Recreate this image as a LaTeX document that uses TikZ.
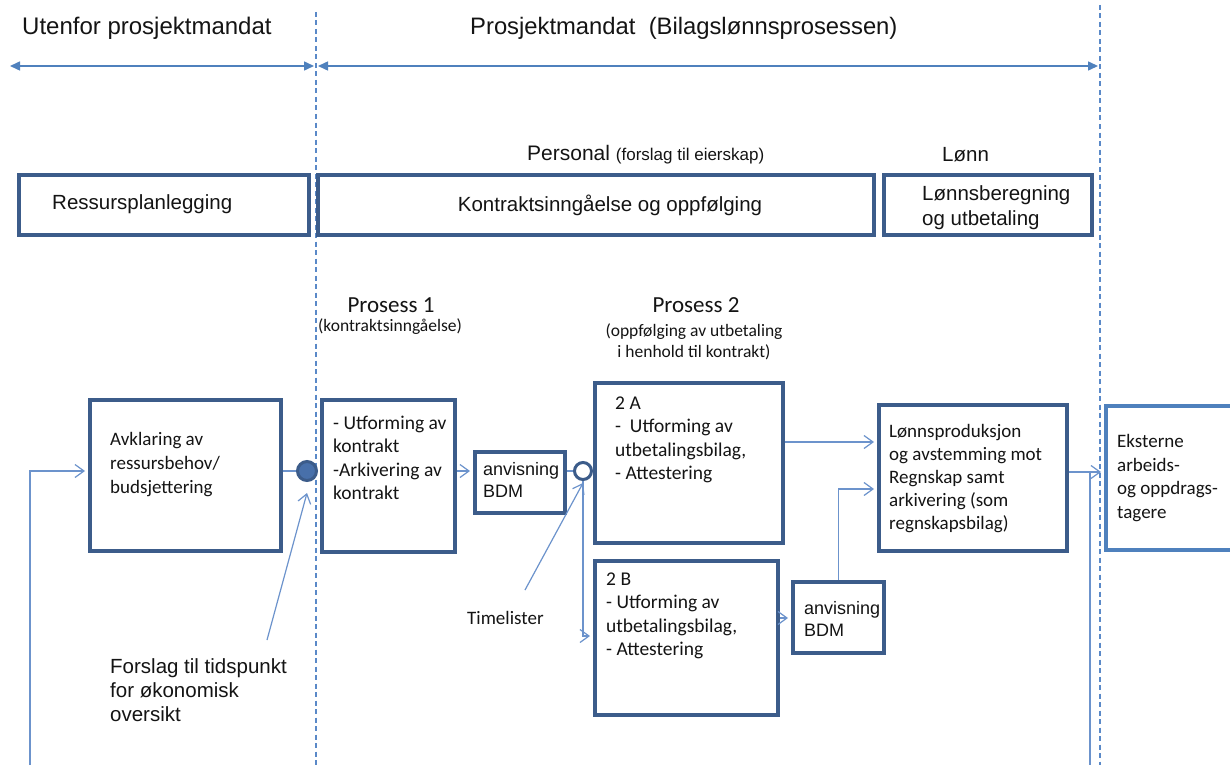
\documentclass[tikz,border=0pt]{standalone}
\usepackage{fontspec}
\setmainfont{Liberation Sans}
\newfontfamily\calfont{Carlito}
\usetikzlibrary{arrows.meta}

\definecolor{frameblue}{RGB}{60,92,138}
\definecolor{flowblue}{RGB}{108,147,204}
\definecolor{guideblue}{RGB}{90,137,200}
\definecolor{spanblue}{RGB}{79,129,189}
\definecolor{extblue}{RGB}{79,129,189}
\definecolor{dotfill}{RGB}{72,112,170}
\definecolor{ink}{RGB}{20,20,20}

\newcommand\fsz[2]{\fontsize{#1}{#2}\selectfont}

\begin{document}
\begin{tikzpicture}[x=1pt,y=-1pt,
  every node/.style={text=ink},
  frame/.style={draw=frameblue, fill=white, line width=3.8pt, inner sep=0pt, anchor=north west},
  extframe/.style={draw=extblue, fill=white, line width=4pt, inner sep=0pt, anchor=north west},
  txt/.style={inner sep=0pt, anchor=west, align=left},
  head/.style={font=\fsz{20.5}{25}},
  body/.style={font=\calfont\fsz{19.5}{23.5}},
  flow/.style={draw=flowblue, line width=1.2pt},
  flowarrow/.style={flow, shorten >=3pt, -{Straight Barb[length=9pt,width=13pt]}},
  guide/.style={draw=guideblue, line width=1.3pt, dash pattern=on 5pt off 3.5pt},
  span/.style={draw=spanblue, line width=1.5pt, {Triangle[length=10pt,width=9pt]}-{Triangle[length=10pt,width=9pt]}},
  hub/.style={circle, draw=frameblue, line width=3pt, inner sep=0pt},
]
\useasboundingbox (0,0) rectangle (1230,765);
\fill[white] (0,0) rectangle (1230,765);
\clip (0,0) rectangle (1230,765);

% scope boundaries and their span arrows
\coordinate (g1top) at (316,12);
\coordinate (g1bot) at (316,765);
\coordinate (g2top) at (1100,5);
\coordinate (g2bot) at (1100,765);
\draw[guide] (g1top) -- (g1bot);
\draw[guide] (g2top) -- (g2bot);

\coordinate (s1a) at (10,66);
\coordinate (s1b) at (314,66);
\coordinate (s2a) at (318,66);
\coordinate (s2b) at (1098,66);
\draw[span] (s1a) -- (s1b);
\draw[span] (s2a) -- (s2b);

\node[txt, font=\fsz{24}{28}] (t-out) at (22,28) {Utenfor prosjektmandat};
\node[txt, font=\fsz{23.8}{28}] (t-in) at (470,28) {Prosjektmandat\ \ (Bilagslønnsprosessen)};

% responsibility areas
\node[txt, font=\fsz{21}{25}] (l-personal) at (527,155) {Personal {\fsz{17}{20}(forslag til eierskap)}};
\node[txt, font=\fsz{20.5}{25}] (l-lonn) at (942,155) {Lønn};

\node[frame, minimum width=290pt, minimum height=60pt] (plan) at (17,173) {};
\node[frame, minimum width=556pt, minimum height=60pt] (contract) at (316,173) {};
\node[frame, minimum width=208pt, minimum height=60pt] (payroll) at (882,173) {};
\node[txt, head] (l-plan) at (52,204) {Ressursplanlegging};
\node[head, inner sep=0pt] (l-contract) at (610,205) {Kontraktsinngåelse og oppfølging};
\node[txt, head] (l-payroll) at (922,208) {Lønnsberegning\\og utbetaling};

% process headings
\node[font=\calfont\fsz{23}{27}, inner sep=0pt] (p1-title) at (391,305) {Prosess 1};
\node[font=\calfont\fsz{17.5}{21}, inner sep=0pt] (p1-sub) at (390,327) {(kontraktsinngåelse)};
\node[font=\calfont\fsz{23}{27}, inner sep=0pt] (p2-title) at (696,305) {Prosess 2};
\node[font=\calfont\fsz{17.5}{21.5}, align=center, inner sep=0pt] (p2-sub) at (694,342) {(oppfølging av utbetaling\\i henhold til kontrakt)};

% process boxes
\node[frame, minimum width=191pt, minimum height=151pt] (avk) at (88,398) {};
\node[frame, minimum width=133pt, minimum height=152pt] (p1) at (320,398) {};
\node[frame, minimum width=90pt, minimum height=61pt] (anv1) at (473,450) {};
\node[frame, minimum width=188pt, minimum height=160pt] (a2) at (593,381) {};
\node[frame, minimum width=183pt, minimum height=154pt] (b2) at (593,559) {};
\node[frame, minimum width=91pt, minimum height=71pt] (anv2) at (791,580) {};
\node[frame, minimum width=188pt, minimum height=146pt] (lp) at (877,403) {};
\node[extframe, minimum width=160pt, minimum height=144pt] (ek) at (1104,404) {};

\node[txt, font=\calfont\fsz{19}{24}] (avk-t) at (110,465) {Avklaring av\\ressursbehov/\\budsjettering};
\node[txt, body] (p1-t) at (333,458) {- Utforming av\\kontrakt\\-Arkivering av\\kontrakt};
\node[txt, font=\fsz{18}{22}] (anv1-t) at (483,480) {anvisning\\BDM};
\node[txt, body] (a2-t) at (615,440) {2 A\\-\ \ Utforming av\\utbetalingsbilag,\\- Attestering};
\node[txt, body] (b2-t) at (606,616) {2 B\\- Utforming av\\utbetalingsbilag,\\- Attestering};
\node[txt, font=\fsz{18}{22}] (anv2-t) at (804,619) {anvisning\\BDM};
\node[txt, font=\calfont\fsz{19}{23}] (lp-t) at (889,479) {Lønnsproduksjon\\og avstemming mot\\Regnskap samt\\arkivering (som\\regnskapsbilag)};
\node[txt, font=\calfont\fsz{19}{23.5}] (ek-t) at (1117,478) {Eksterne\\arbeids-\\og oppdrags-\\tagere};

\node[txt, font=\calfont\fsz{19}{23}] (timelister) at (467,618) {Timelister};
\node[txt, font=\fsz{20.5}{24}] (note) at (110,690) {Forslag til tidspunkt\\for økonomisk\\oversikt};

% decision points
\node[hub, fill=dotfill, minimum size=19pt] (gate1) at (307,471) {};
\node[hub, fill=white, minimum size=17pt] (gate2) at (583,471) {};

% connectors
\coordinate (rowA) at (0,471);
\coordinate (rowB) at (0,636);
\coordinate (rowC) at (0,442);
\coordinate (rowD) at (0,489);
\coordinate (rowE) at (0,618);
\coordinate (rowF) at (0,472);
\coordinate (fbfoot) at (30,765);
\coordinate (notefoot) at (267,640);
\coordinate (timefoot) at (525,590);
\coordinate (retfoot) at (1090,765);

\draw[flowarrow] (fbfoot) |- (avk.west |- rowA);
\draw[flow] (avk.east |- rowA) -- (gate1.west);
\draw[flowarrow, shorten >=0pt] (notefoot) -- ([yshift=-11pt]gate1.south);
\draw[flowarrow] (p1.east |- rowA) -- (anv1.west |- rowA);
\draw[flow] (anv1.east |- rowA) -- (gate2.west);
\draw[flowarrow] (gate2.south) |- (b2.west |- rowB);
\draw[flowarrow, shorten >=0pt] (timefoot) -- ([yshift=-2pt]gate2.south);
\draw[flowarrow] (a2.east |- rowC) -- (lp.west |- rowC);
\draw[flowarrow] (anv2.north) |- (lp.west |- rowD);
\draw[flowarrow] (b2.east |- rowE) -- (anv2.west |- rowE);
\draw[flowarrow] (lp.east |- rowF) -- (ek.west |- rowF);
\draw[flow] (retfoot |- rowF) -- (retfoot);
\end{tikzpicture}
\end{document}
